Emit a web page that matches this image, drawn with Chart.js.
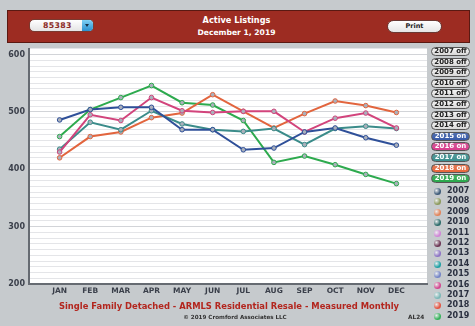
<!DOCTYPE html>
<html>
<head>
<meta charset="utf-8">
<script src="https://cdn.jsdelivr.net/npm/chart.js@4.4.1/dist/chart.umd.min.js"></script>
<style>
  html, body { margin: 0; padding: 0; }
  body { width: 475px; height: 326px; background: #c6cacd; position: relative; overflow: hidden;
         font-family: "DejaVu Sans", Verdana, sans-serif; }
  #banner { position: absolute; left: 7px; top: 10px; width: 463px; height: 33px; background: #9d2c22;
            border: 1px solid #5a1912; box-sizing: border-box; }
  #zip { position: absolute; left: 29px; top: 19px; width: 65px; height: 13px; background: linear-gradient(#ffffff, #e4e4e4);
         border-radius: 5px; box-sizing: border-box; border: 1px solid #7a3a30; }
  #zip span { position: absolute; left: 13px; top: 0px; font-size: 7.8px; font-weight: bold; color: #8c2a25; letter-spacing: 0.3px; line-height: 11px; }
  #zip i { position: absolute; right: 0; top: 0; width: 11px; height: 11px; background: linear-gradient(#7fd0f5, #2a90d0);
           border-radius: 0 4px 4px 0; }
  #zip i:after { content: ""; position: absolute; left: 3px; top: 4px; border-left: 2.5px solid transparent;
                 border-right: 2.5px solid transparent; border-top: 3px solid #15304a; }
  #t1, #t2 { position: absolute; left: 0; width: 473px; text-align: center; color: #fff; font-weight: bold; }
  #t1 { top: 15px; font-size: 8.2px; }
  #t2 { top: 28px; font-size: 7.6px; }
  #print { position: absolute; left: 387px; top: 20px; width: 55px; height: 13px; border-radius: 7px;
           background: linear-gradient(#ffffff, #e6e6e6); border: 1px solid #6a3a35; box-sizing: border-box;
           font-size: 6.5px; font-weight: bold; text-align: center; line-height: 11px; color: #222; }
  #chartBox { position: absolute; left: 0; top: 40px; width: 432px; height: 262px; }
  .btn { position: absolute; left: 431px; width: 39px; height: 9px; border-radius: 5px; box-sizing: border-box;
         border: 1px solid #555; font-size: 7px; font-weight: bold; text-align: center; line-height: 7px; color: #222;
         background: linear-gradient(#f4f4f4, #d8d8d8); }
  .btn.on { color: #fff; }
  .leg { position: absolute; left: 433px; font-size: 8px; font-weight: bold; color: #2a3040; }
  .leg b { position: absolute; left: 1px; top: 2px; width: 7px; height: 7px; border-radius: 50%; }
  .leg span { position: absolute; left: 14px; top: 0; }
  #foot1 { position: absolute; left: 0; width: 458px; top: 301px; text-align: center; font-size: 8.4px; font-weight: bold; color: #b3261e; }
  #foot2 { position: absolute; left: 0; width: 470px; top: 314px; text-align: center; font-size: 5.6px; font-weight: bold; color: #333; }
  #foot3 { position: absolute; left: 408px; top: 314px; font-size: 5.8px; font-weight: bold; color: #333; }
</style>
</head>
<body>
<div id="banner"></div>
<div id="zip"><span>85383</span><i></i></div>
<div id="t1">Active Listings</div>
<div id="t2">December 1, 2019</div>
<div id="print">Print</div>
<div id="chartBox"><canvas id="c"></canvas></div>
<div id="buttons"></div>
<div id="legend"></div>
<div id="foot1">Single Family Detached - ARMLS Residential Resale - Measured Monthly</div>
<div id="foot2">© 2019 Cromford Associates LLC</div>
<div id="foot3">AL24</div>
<script>
// Active listings per month, ZIP 85383
const months = ['JAN','FEB','MAR','APR','MAY','JUN','JUL','AUG','SEP','OCT','NOV','DEC'];
const yTicks = [200, 300, 400, 500, 600];

const y2015 = [486, 504, 508, 508, 469, 469, 434, 437, 465, 472, 455, 442];
const y2016 = [430, 495, 485, 525, 502, 499, 501, 501, 465, 489, 498, 472];
const y2017 = [435, 482, 469, 502, 479, 469, 466, 471, 443, 471, 475, 471];
const y2018 = [420, 457, 465, 490, 498, 530, 501, 472, 497, 519, 511, 499];
const y2019 = [457, 504, 525, 546, 516, 512, 485, 412, 423, 408, 391, 375];

const allYears = ['2007','2008','2009','2010','2011','2012','2013','2014','2015','2016','2017','2018','2019'];
const yearColors = ['#3d5a78','#8c9a5c','#e2845a','#2c6b6a','#cf86d6','#6b3553','#8d74c4','#1fa0a4',
                    '#7485c6','#d2468f','#7bb7b6','#e35340','#36b25a'];
const shownYears = ['2015','2016','2017','2018','2019'];
const lineColors = { '2015': '#2f5099', '2016': '#d2447c', '2017': '#3b8c8a', '2018': '#e2653e', '2019': '#2daa4e' };
const btnColors  = { '2015': '#3559a8', '2016': '#d83c8c', '2017': '#3a8f8e', '2018': '#e8663a', '2019': '#28a84a' };
const seriesByYear = { '2015': y2015, '2016': y2016, '2017': y2017, '2018': y2018, '2019': y2019 };

// toggle buttons
const btnBox = document.getElementById('buttons');
allYears.forEach((yr, i) => {
  const d = document.createElement('div');
  const on = shownYears.includes(yr);
  d.className = 'btn' + (on ? ' on' : '');
  d.style.top = (47 + i * 10.6) + 'px';
  if (on) d.style.background = 'linear-gradient(' + btnColors[yr] + 'cc, ' + btnColors[yr] + ')';
  d.textContent = yr + (on ? ' on' : ' off');
  btnBox.appendChild(d);
});

// year key
const legBox = document.getElementById('legend');
allYears.forEach((yr, i) => {
  const d = document.createElement('div');
  d.className = 'leg';
  d.style.top = (186 + i * 10.4) + 'px';
  d.innerHTML = '<b style="background: radial-gradient(circle at 35% 35%, #ffffffaa, ' + yearColors[i] + ' 60%)"></b><span>' + yr + '</span>';
  legBox.appendChild(d);
});

const datasets = shownYears.map(yr => ({
  label: yr,
  data: seriesByYear[yr].map((v, i) => ({ x: i + 1, y: v })),
  borderColor: lineColors[yr],
  backgroundColor: '#b9bfc8',
  pointBorderColor: lineColors[yr],
  pointBackgroundColor: '#aab0bb',
  pointRadius: 2.3,
  pointBorderWidth: 1,
  borderWidth: 2,
  tension: 0
}));

// white plot background
const plotBg = {
  id: 'plotBg',
  beforeDraw(chart) {
    const a = chart.chartArea, ctx = chart.ctx;
    ctx.save();
    ctx.fillStyle = '#ffffff';
    ctx.fillRect(a.left, a.top, a.right - a.left, a.bottom - a.top);
    ctx.restore();
  }
};

new Chart(document.getElementById('c'), {
  type: 'line',
  data: { datasets },
  plugins: [plotBg],
  options: {
    responsive: true,
    maintainAspectRatio: false,
    animation: false,
    layout: { padding: { top: 8, right: 2, left: 0, bottom: 0 } },
    plugins: { legend: { display: false }, tooltip: { enabled: false } },
    scales: {
      x: {
        type: 'linear', min: 0, max: 13,
        afterBuildTicks(scale) { scale.ticks = months.map((m, i) => ({ value: i + 1 })); },
        afterFit(scale) { scale.height = 18; },
        ticks: {
          autoSkip: false, maxRotation: 0,
          callback: (v) => months[v - 1] || '',
          color: '#3a3f4a', font: { family: 'DejaVu Sans', size: 7.5, weight: 'bold' }, padding: 3
        },
        grid: { display: false, drawTicks: false },
        border: { display: true, color: '#666b72', width: 2 }
      },
      y: {
        min: 200, max: 610,
        afterBuildTicks(scale) {
          const t = [];
          for (let v = 200; v <= 610; v += 10) t.push({ value: v });
          scale.ticks = t;
        },
        afterFit(scale) { scale.width = 29; },
        ticks: {
          autoSkip: false,
          callback: (v) => yTicks.includes(v) ? String(v) : '',
          color: '#3a3f4a', font: { family: 'DejaVu Sans', size: 8, weight: 'bold' }, padding: 4
        },
        grid: {
          drawTicks: false,
          color: (c) => (c.tick && c.tick.value % 100 === 0) ? '#d2d4d8' : '#e4e5e8',
          lineWidth: 1
        },
        border: { display: true, color: '#666b72', width: 2 }
      }
    }
  }
});
</script>
</body>
</html>
